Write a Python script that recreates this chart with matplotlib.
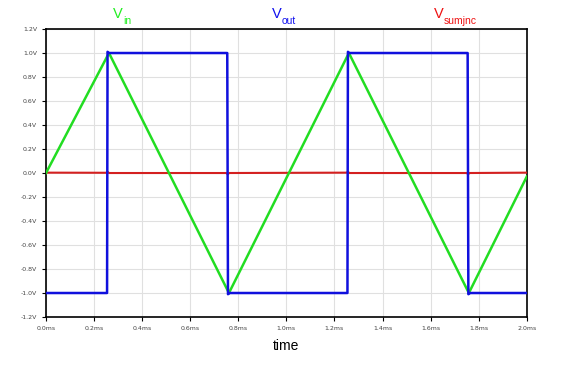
import matplotlib
matplotlib.use("Agg")
import matplotlib.pyplot as plt
from matplotlib.ticker import FuncFormatter

# Data (time in ms, voltages in V)
t_in = [0.0, 0.262, 0.761, 1.260, 1.759, 2.0]
v_in = [0.0, 1.0, -1.0, 1.0, -1.0, -0.03]

t_out = [0.0, 0.254, 0.256, 0.262, 0.754, 0.757, 0.765, 1.254, 1.256, 1.262, 1.754, 1.757, 1.765, 2.0]
v_out = [-1.0, -1.0, 1.01, 1.0, 1.0, -1.01, -1.0, -1.0, 1.01, 1.0, 1.0, -1.01, -1.0, -1.0]

t_sum = [0.0, 0.25, 0.256, 0.262, 0.75, 0.756, 0.762, 1.25, 1.256, 1.262, 1.75, 1.756, 1.762, 2.0]
v_sum = [0.003, 0.002, 0.01, 0.0, 0.0, -0.01, 0.0, 0.003, 0.01, 0.0, 0.0, -0.01, 0.0, 0.003]

xticks = [0.0, 0.2, 0.4, 0.6, 0.8, 1.0, 1.2, 1.4, 1.6, 1.8, 2.0]
yticks = [-1.2, -1.0, -0.8, -0.6, -0.4, -0.2, 0.0, 0.2, 0.4, 0.6, 0.8, 1.0, 1.2]

series_names = [("V", "in"), ("V", "out"), ("V", "sumjnc")]
series_colors = ["#22ee22", "#1010ee", "#ee1111"]

fig = plt.figure(figsize=(5.61, 3.65), dpi=100)
ax = fig.add_axes([0.082, 0.1315, 0.857, 0.789])

ax.plot(t_sum, v_sum, color="#d42020", lw=1.5, zorder=3)
ax.plot(t_in, v_in, color="#22dd22", lw=1.8, zorder=4)
ax.plot(t_out, v_out, color="#1010dd", lw=1.8, zorder=5)

ax.set_xlim(0, 2.0)
ax.set_ylim(-1.2, 1.2)
ax.set_xticks(xticks)
ax.set_yticks(yticks)
ax.xaxis.set_major_formatter(FuncFormatter(lambda v, p: f"{v:.1f}ms"))
ax.yaxis.set_major_formatter(FuncFormatter(lambda v, p: f"{v:.1f}V".replace("-0.0", "0.0")))
ax.tick_params(labelsize=4.5, colors="black", labelcolor="#444444", length=3, width=0.8)
ax.grid(True, color="#e0e0e0", lw=0.8)
ax.set_axisbelow(True)
for s in ax.spines.values():
    s.set_linewidth(1.2)

ax.set_xlabel("time", fontsize=10, labelpad=6, family="Liberation Sans")

W, H = 561, 365
v_x = [113, 272, 434]
sub_x = [123, 282, 444]
for (main, sub), col, vx, sx in zip(series_names, series_colors, v_x, sub_x):
    fig.text(vx / W, 1 - 18 / H, main, color=col, fontsize=10.5, ha="left", va="baseline",
             family="Liberation Sans")
    fig.text(sx / W, 1 - 23.5 / H, sub, color=col, fontsize=7.5, ha="left", va="baseline",
             family="Liberation Sans")

fig.savefig("out.png", dpi=100)
